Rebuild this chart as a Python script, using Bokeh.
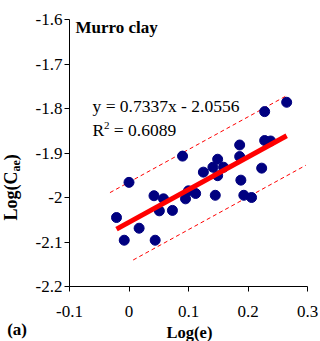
import math
from bokeh.plotting import figure
from bokeh.models import Range1d, FixedTicker, CustomJSTickFormatter, Label, ColumnDataSource
from bokeh.embed import file_html
from bokeh.resources import INLINE

# Murro clay: secondary compression coefficient vs void ratio (log-log)
log_e = [-0.021, -0.008, 0.000, 0.017, 0.042, 0.044, 0.051, 0.058, 0.073, 0.090,
         0.095, 0.100, 0.112, 0.125, 0.141, 0.149, 0.149, 0.145, 0.159, 0.186,
         0.186, 0.188, 0.193, 0.206, 0.223, 0.228, 0.238, 0.228, 0.265]
log_cae = [-2.045, -2.096, -1.966, -2.069, -1.996, -2.096, -2.030, -2.003, -2.029, -1.907,
           -2.003, -1.985, -1.991, -1.943, -1.932, -1.914, -1.951, -1.995, -1.932, -1.882,
           -1.908, -1.961, -1.995, -2.000, -1.934, -1.872, -1.873, -1.807, -1.786]

# linear trend and its band
slope = 0.7337
intercept = -2.0556
r_squared = 0.6089
band_half_width = 0.09
upper_band_x = [-0.032, 0.265]
lower_band_x = [0.007, 0.297]

x_ticks = [-0.1, 0.0, 0.1, 0.2, 0.3]
y_ticks = [-2.2, -2.1, -2.0, -1.9, -1.8, -1.7, -1.6]

SERIF = "Liberation Serif"
W, H = 320, 341
# pixel box of the axes area inside the canvas
FL, FR, FT, FB = 69, 307, 19, 286

def dx(px):
    return x_ticks[0] + (px - FL) * (x_ticks[-1] - x_ticks[0]) / (FR - FL)

def dy(py):
    return y_ticks[-1] - (py - FT) * (y_ticks[-1] - y_ticks[0]) / (FB - FT)

# the frame spans the whole canvas; axes sit at fixed data locations
p = figure(width=W, height=H,
           x_range=Range1d(dx(0), dx(W)), y_range=Range1d(dy(H), dy(0)),
           output_backend="svg", toolbar_location=None, min_border=0)
p.outline_line_color = None
p.grid.visible = False
p.background_fill_color = "white"
p.border_fill_color = "white"

fmt = CustomJSTickFormatter(code="return String(Math.round(tick * 10) / 10);")
p.xaxis.fixed_location = y_ticks[0]
p.xaxis.bounds = (x_ticks[0], x_ticks[-1])
p.yaxis.fixed_location = x_ticks[0]
p.yaxis.bounds = (y_ticks[0], y_ticks[-1])
for ax, ticks in ((p.xaxis[0], x_ticks), (p.yaxis[0], y_ticks)):
    ax.ticker = FixedTicker(ticks=ticks)
    ax.formatter = fmt
    ax.minor_tick_line_color = None
    ax.major_tick_in = 0
    ax.major_tick_out = 5
    ax.axis_line_color = "black"
    ax.major_tick_line_color = "black"
    ax.major_label_text_font = SERIF
    ax.major_label_text_font_size = "17px"
    ax.major_label_text_color = "black"
p.xaxis.major_label_standoff = 14
p.yaxis.major_label_standoff = 2

# prediction band (dashed)
p.line(upper_band_x, [slope * x + intercept + band_half_width for x in upper_band_x],
       line_color="#FF0000", line_width=1, line_dash="4 3")
p.line(lower_band_x, [slope * x + intercept - band_half_width for x in lower_band_x],
       line_color="#FF0000", line_width=1, line_dash="4 3")

# data points
src = ColumnDataSource(dict(x=log_e, y=log_cae))
p.scatter("x", "y", source=src, size=10, fill_color="#000080", line_color="#000080")

# trend line across the data
x0, x1 = min(log_e), max(log_e)
p.line([x0, x1], [slope * x0 + intercept, slope * x1 + intercept],
       line_color="#FF0000", line_width=5)

# baseline correction: rendered glyphs sit ~0.4 em below the anchor
LIFT = 0.4

def label(px, py, text, size, bold=False, align="left", vertical=False):
    lift = LIFT * size
    if vertical:
        px -= lift
    else:
        py -= lift
    p.add_layout(Label(x=dx(px), y=dy(py), text=text, text_font=SERIF,
                       text_font_size=f"{size}px",
                       text_font_style="bold" if bold else "normal",
                       text_align=align, text_baseline="alphabetic",
                       angle=math.pi / 2 if vertical else 0.0,
                       text_color="black"))

label(75, 33.3, "Murro clay", 17, bold=True)
label(92, 112.7, f"y = {slope}x - {abs(intercept)}", 17.5)
label(92, 136.7, "R", 17.5)
label(103.5, 129.3, "2", 11)
label(113.3, 136.7, f"= {r_squared}", 17.5)

# axis titles
label(189, 338.2, "Log(e)", 16.5, bold=True, align="center")
label(6.7, 335.3, "(a)", 17, bold=True)

ylab_base_x = 17.3
label(ylab_base_x, 220, "Log(C", 18, bold=True, vertical=True)
label(ylab_base_x + 3, 220 - 49.0, "ae", 12, bold=True, vertical=True)
label(ylab_base_x, 220 - 49.0 - 11.3, ")", 18, bold=True, vertical=True)

open("out.html", "w").write(file_html(p, INLINE))
